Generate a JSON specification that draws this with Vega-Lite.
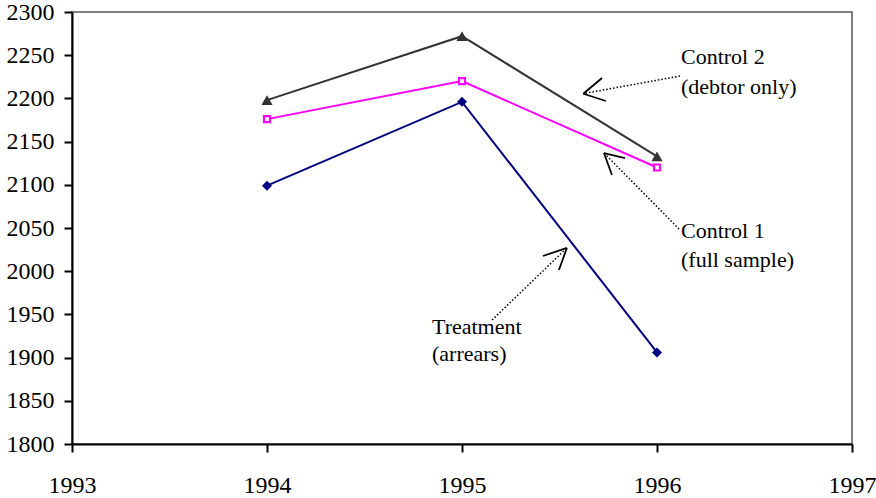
{
  "$schema": "https://vega.github.io/schema/vega-lite/v6.json",
  "width": 780,
  "height": 432,
  "autosize": {"type": "none"},
  "padding": {"left": 72, "top": 12, "right": 24, "bottom": 54},
  "background": "white",
  "config": {
    "view": {"stroke": "#808080", "strokeWidth": 2},
    "axis": {
      "grid": false,
      "title": null,
      "labelFont": "Liberation Serif",
      "labelFontSize": 24,
      "labelColor": "black",
      "domainColor": "black",
      "domainWidth": 2,
      "tickColor": "black",
      "tickWidth": 2,
      "tickSize": 8
    },
    "text": {"font": "Liberation Serif", "fontSize": 22, "color": "black"}
  },
  "datasets": {
    "series": [
      {"series": "Control 2", "year": 1994, "value": 2198},
      {"series": "Control 2", "year": 1995, "value": 2272},
      {"series": "Control 2", "year": 1996, "value": 2133},
      {"series": "Control 1", "year": 1994, "value": 2176},
      {"series": "Control 1", "year": 1995, "value": 2220},
      {"series": "Control 1", "year": 1996, "value": 2120},
      {"series": "Treatment", "year": 1994, "value": 2099},
      {"series": "Treatment", "year": 1995, "value": 2196},
      {"series": "Treatment", "year": 1996, "value": 1906}
    ],
    "arrows": [
      {"kind": "shaft", "x": 1996.118, "y": 2225.9, "x2": 1995.626, "y2": 2205.7},
      {"kind": "arm", "x": 1995.622, "y": 2205.4, "x2": 1995.718, "y2": 2223.6},
      {"kind": "arm", "x": 1995.622, "y": 2205.4, "x2": 1995.738, "y2": 2197.0},
      {"kind": "shaft", "x": 1996.113, "y": 2048.8, "x2": 1995.728, "y2": 2136.8},
      {"kind": "arm", "x": 1995.728, "y": 2136.8, "x2": 1995.836, "y2": 2131.0},
      {"kind": "arm", "x": 1995.728, "y": 2136.8, "x2": 1995.769, "y2": 2111.3},
      {"kind": "shaft", "x": 1995.154, "y": 1943.5, "x2": 1995.538, "y2": 2026.9},
      {"kind": "arm", "x": 1995.538, "y": 2026.9, "x2": 1995.415, "y2": 2017.6},
      {"kind": "arm", "x": 1995.538, "y": 2026.9, "x2": 1995.497, "y2": 2001.4}
    ],
    "labels": [
      {"text": "Control 2", "x": 1996.123, "y": 2248},
      {"text": "(debtor only)", "x": 1996.123, "y": 2213},
      {"text": "Control 1", "x": 1996.123, "y": 2046.5},
      {"text": "(full sample)", "x": 1996.123, "y": 2013},
      {"text": "Treatment", "x": 1994.846, "y": 1935.4},
      {"text": "(arrears)", "x": 1994.846, "y": 1904.2}
    ]
  },
  "layer": [
    {
      "data": {"name": "series"},
      "mark": {"type": "line", "strokeWidth": 2},
      "encoding": {
        "x": {"field": "year", "type": "quantitative", "scale": {"domain": [1993, 1997], "nice": false, "zero": false},
              "axis": {"values": [1993, 1994, 1995, 1996, 1997], "format": "d", "labelPadding": 21, "labelFlush": false, "labelOverlap": false}},
        "y": {"field": "value", "type": "quantitative", "scale": {"domain": [1800, 2300], "nice": false, "zero": false},
              "axis": {"values": [1800, 1850, 1900, 1950, 2000, 2050, 2100, 2150, 2200, 2250, 2300], "format": "d", "labelPadding": 10, "labelOverlap": false}},
        "color": {"field": "series", "type": "nominal", "legend": null,
                  "scale": {"domain": ["Control 2", "Control 1", "Treatment"], "range": ["#333333", "#FF00FF", "#000080"]}},
        "order": {"field": "year"}
      }
    },
    {
      "data": {"name": "series"},
      "transform": [{"filter": "datum.series === 'Control 2'"}],
      "mark": {"type": "point", "shape": "triangle-up", "filled": true, "size": 125, "color": "#333333", "opacity": 1},
      "encoding": {"x": {"field": "year", "type": "quantitative"}, "y": {"field": "value", "type": "quantitative"}}
    },
    {
      "data": {"name": "series"},
      "transform": [{"filter": "datum.series === 'Control 1'"}],
      "mark": {"type": "point", "shape": "square", "filled": true, "size": 36, "fill": "white", "stroke": "#FF00FF", "strokeWidth": 2.2, "opacity": 1},
      "encoding": {"x": {"field": "year", "type": "quantitative"}, "y": {"field": "value", "type": "quantitative"}}
    },
    {
      "data": {"name": "series"},
      "transform": [{"filter": "datum.series === 'Treatment'"}],
      "mark": {"type": "point", "shape": "diamond", "filled": true, "size": 100, "color": "#000080", "opacity": 1},
      "encoding": {"x": {"field": "year", "type": "quantitative"}, "y": {"field": "value", "type": "quantitative"}}
    },
    {
      "data": {"name": "arrows"},
      "transform": [{"filter": "datum.kind === 'shaft'"}],
      "mark": {"type": "rule", "color": "black", "strokeWidth": 1.5, "strokeDash": [1.5, 2]},
      "encoding": {
        "x": {"field": "x", "type": "quantitative"}, "y": {"field": "y", "type": "quantitative"},
        "x2": {"field": "x2"}, "y2": {"field": "y2"}
      }
    },
    {
      "data": {"name": "arrows"},
      "transform": [{"filter": "datum.kind === 'arm'"}],
      "mark": {"type": "rule", "color": "black", "strokeWidth": 1.8},
      "encoding": {
        "x": {"field": "x", "type": "quantitative"}, "y": {"field": "y", "type": "quantitative"},
        "x2": {"field": "x2"}, "y2": {"field": "y2"}
      }
    },
    {
      "data": {"name": "labels"},
      "mark": {"type": "text", "align": "left", "baseline": "middle"},
      "encoding": {
        "x": {"field": "x", "type": "quantitative"}, "y": {"field": "y", "type": "quantitative"},
        "text": {"field": "text"}
      }
    }
  ]
}
